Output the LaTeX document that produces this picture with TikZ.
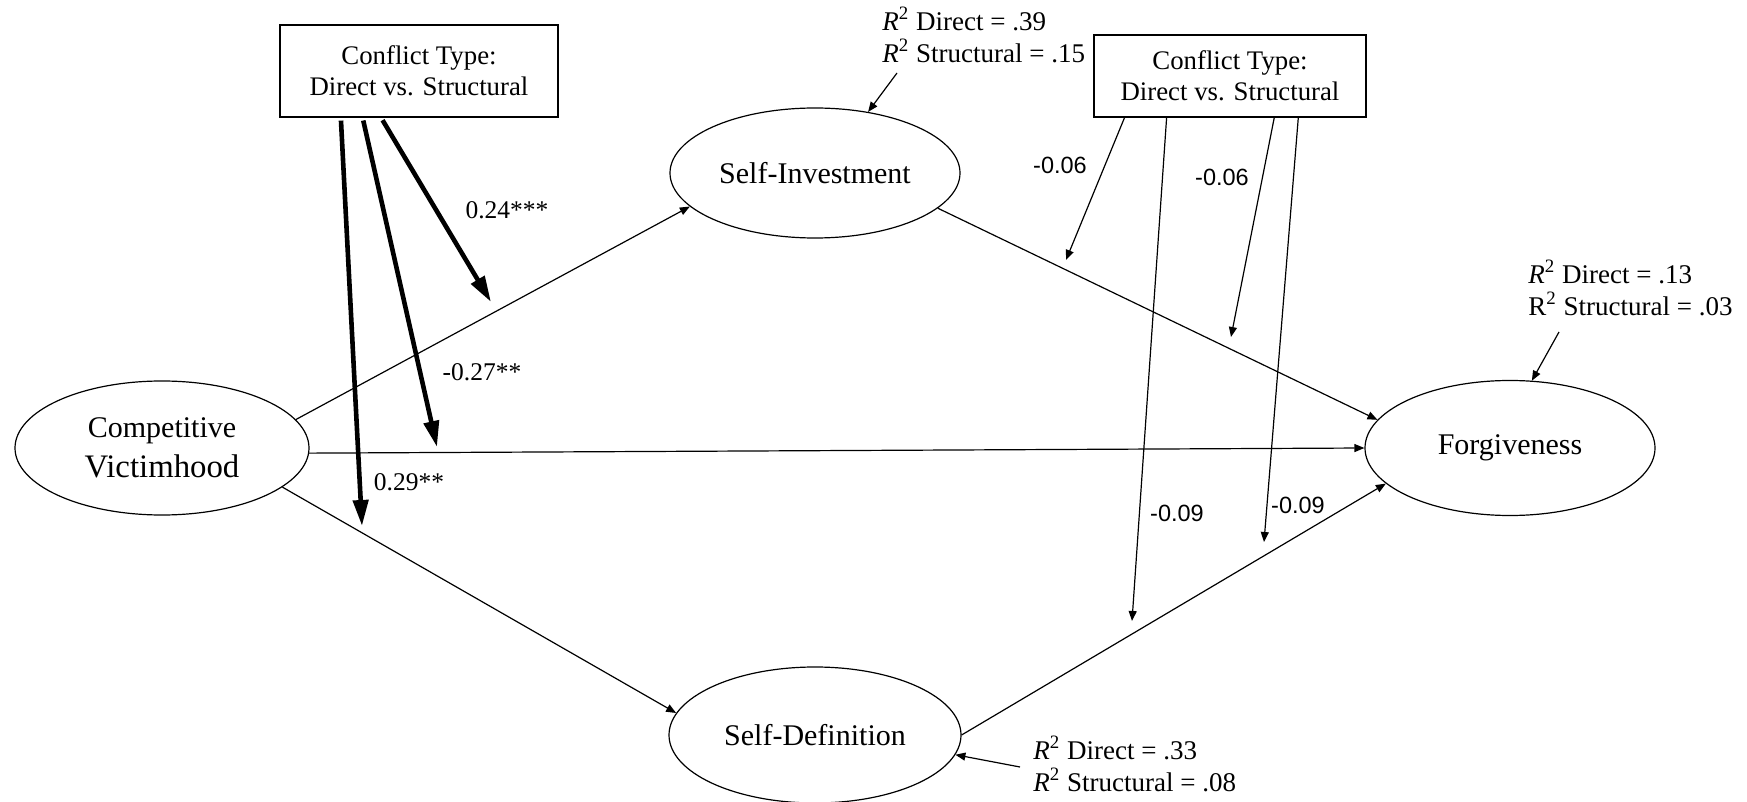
\documentclass[tikz,border=0pt]{standalone}
\usepackage{fontspec}
\setmainfont{Liberation Serif}
\newfontfamily\sansf{Liberation Sans}
\usetikzlibrary{shapes.geometric,arrows.meta,calc}
\begin{document}
\begin{tikzpicture}[x=0.5pt,y=-0.5pt,
  latent/.style={ellipse,draw,line width=0.6pt,inner sep=0pt,font=\fontsize{15}{20}\selectfont,align=center},
  modbox/.style={draw,line width=0.6pt,inner sep=0pt,font=\fontsize{13.4}{15.5}\selectfont,align=center},
  arr/.style={line width=0.6pt,-{Triangle[length=5pt,width=4pt]}},
  thickarr/.style={line width=2.3pt,shorten <=1.5pt,-{Triangle[length=13pt,width=7.5pt]}},
  rlab/.style={font=\fontsize{13.5}{16}\selectfont,align=left,inner sep=0pt,anchor=north west},
  coefs/.style={font=\fontsize{12.75}{14}\selectfont,inner sep=0pt},
  coefsans/.style={font=\sansf\fontsize{11.75}{13}\selectfont,inner sep=0pt}]

\useasboundingbox (0,0) rectangle (1747,802);

% latent variables
\node[latent,minimum width=147pt,minimum height=67pt] (cv) at (162,448) {Competitive\\{\fontsize{16.4}{20}\selectfont Victimhood}};
\node[latent,minimum width=145pt,minimum height=65pt] (si) at (815,173) {Self-Investment};
\node[latent,minimum width=146pt,minimum height=68pt] (sd) at (815,735) {Self-Definition};
\node[latent,minimum width=145pt,minimum height=67.5pt] (fg) at (1510,448) {Forgiveness};

% moderator boxes
\node[modbox,minimum width=139pt,minimum height=46pt] (lbox) at (419,71) {Conflict Type:\\Direct vs. Structural};
\node[modbox,minimum width=136pt,minimum height=41pt] (rbox) at (1230,76) {Conflict Type:\\Direct vs. Structural};

% R2 labels
\node[rlab] (r2si) at (882,7) {\textit{R}\textsuperscript{2} Direct = .39\\\textit{R}\textsuperscript{2} Structural = .15};
\node[rlab] (r2fg) at (1528,260) {\textit{R}\textsuperscript{2} Direct = .13\\R\textsuperscript{2} Structural = .03};
\node[rlab] (r2sd) at (1033,736) {\textit{R}\textsuperscript{2} Direct = .33\\\textit{R}\textsuperscript{2} Structural = .08};

% main paths
\draw[arr] (cv.12) -- (si.195);
\draw[arr] (cv.-2) -- (fg.180);
\draw[arr] (cv.-18) -- (sd.171);
\draw[arr] (si.-16) -- (fg.168);
\draw[arr] (sd.0) -- (fg.196);

% R2 arrows
\coordinate (r2siS) at (897,73);
\coordinate (r2fgS) at (1559,332);
\coordinate (r2sdS) at (1020,767);
\draw[arr] (r2siS) -- (si.49);
\draw[arr] (r2fgS) -- (fg.72);
\draw[arr] (r2sdS) -- (sd.-8);

% thick moderation arrows (left box)
\coordinate (t1) at (362,526);
\coordinate (t2) at (437,447);
\coordinate (t3) at (491,302);
\draw[thickarr] ($(lbox.south west)!0.220!(lbox.south east)$) -- (t1);
\draw[thickarr] ($(lbox.south west)!0.298!(lbox.south east)$) -- (t2);
\draw[thickarr] ($(lbox.south west)!0.364!(lbox.south east)$) -- (t3);

% thin moderation arrows (right box)
\coordinate (m1) at (1066,260);
\coordinate (m2) at (1132,621);
\coordinate (m3) at (1231,337);
\coordinate (m4) at (1264,542);
\draw[arr] ($(rbox.south west)!0.114!(rbox.south east)$) -- (m1);
\draw[arr] ($(rbox.south west)!0.268!(rbox.south east)$) -- (m2);
\draw[arr] ($(rbox.south west)!0.662!(rbox.south east)$) -- (m3);
\draw[arr] ($(rbox.south west)!0.750!(rbox.south east)$) -- (m4);

% coefficient labels
\node[coefs] (c1) at (507,210) {0.24***};
\node[coefs] (c2) at (482,372) {-0.27**};
\node[coefs] (c3) at (409,482) {0.29**};
\node[coefsans] (c4) at (1060,165) {-0.06};
\node[coefsans] (c5) at (1222,177) {-0.06};
\node[coefsans] (c6) at (1177,513) {-0.09};
\node[coefsans] (c7) at (1298,505) {-0.09};
\end{tikzpicture}
\end{document}
